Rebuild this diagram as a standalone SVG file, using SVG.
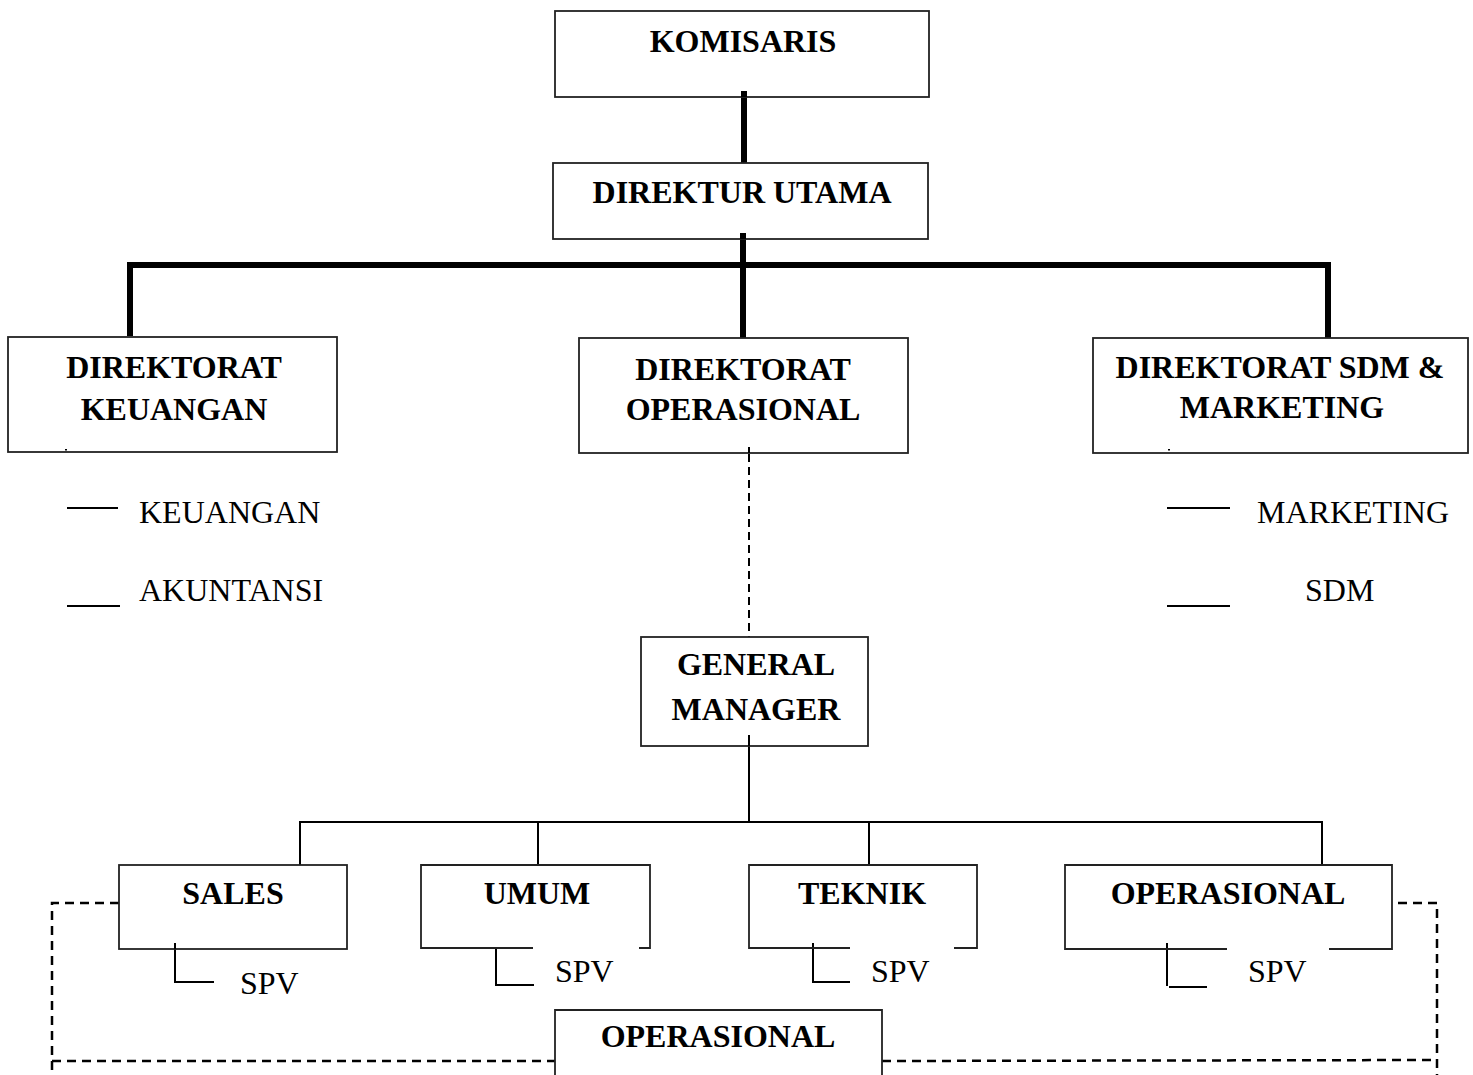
<svg xmlns="http://www.w3.org/2000/svg" width="1473" height="1075" viewBox="0 0 1473 1075">
<style>
.box{fill:#fff;stroke:#222;stroke-width:1.8}
.edge{fill:none;stroke:#222;stroke-width:1.8}
.b{font-family:"Liberation Serif","Times New Roman",serif;font-weight:bold;font-size:32px;fill:#000;text-anchor:middle}
.r{font-family:"Liberation Serif","Times New Roman",serif;font-size:32px;fill:#000}
.thick{fill:none;stroke:#000;stroke-width:6}
.thin{fill:none;stroke:#000;stroke-width:2}
.dash{fill:none;stroke:#000;stroke-width:2.5;stroke-dasharray:9 6}
</style>
<rect width="1473" height="1075" fill="#fff"/>
<g id="connectors">
<line class="thick" x1="744" y1="91" x2="744" y2="163"/>
<line class="thick" x1="743" y1="233" x2="743" y2="338"/>
<polyline class="thick" points="130,336 130,265 1328,265 1328,338"/>
<line class="thin" x1="749" y1="454" x2="749" y2="637" stroke-dasharray="8 5"/>
<line class="thin" x1="749" y1="746" x2="749" y2="822"/>
<line class="thin" x1="299" y1="822" x2="1323" y2="822"/>
<line class="thin" x1="300" y1="822" x2="300" y2="865"/>
<line class="thin" x1="538" y1="822" x2="538" y2="865"/>
<line class="thin" x1="869" y1="822" x2="869" y2="865"/>
<line class="thin" x1="1322" y1="822" x2="1322" y2="865"/>
<polyline class="thin" points="175,943 175,982 214,982"/>
<polyline class="thin" points="496,948 496,985 534,985"/>
<polyline class="thin" points="813,943 813,982 850,982"/>
<line class="thin" x1="1167" y1="943" x2="1167" y2="986"/>
<line class="thin" x1="1169" y1="987" x2="1207" y2="987"/>
<line class="thin" x1="67" y1="508" x2="118" y2="508"/>
<line class="thin" x1="67" y1="606" x2="120" y2="606"/>
<line class="thin" x1="1167" y1="508" x2="1230" y2="508"/>
<line class="thin" x1="1167" y1="606" x2="1230" y2="606"/>
<polyline class="dash" points="119,903 52,903 52,1075"/>
<line class="dash" x1="52" y1="1061" x2="555" y2="1061"/>
<line class="dash" x1="882" y1="1061" x2="1437" y2="1060"/>
<polyline class="dash" points="1398,903 1437,903 1437,1075"/>
</g>
<g id="komisaris"><rect class="box" x="555" y="11" width="374" height="86"/><text class="b" x="743" y="52">KOMISARIS</text></g>
<line class="thick" x1="744" y1="91" x2="744" y2="97"/>
<g id="direktur-utama"><rect class="box" x="553" y="163" width="375" height="76"/><text class="b" x="742" y="203">DIREKTUR UTAMA</text></g>
<line class="thick" x1="743" y1="233" x2="743" y2="239"/>
<g id="dir-keuangan"><rect class="box" x="8" y="337" width="329" height="115"/><text class="b" x="174" y="378">DIREKTORAT</text><text class="b" x="174" y="420">KEUANGAN</text><rect x="65" y="449" width="2" height="1.5" fill="#000"/></g>
<g id="dir-operasional"><rect class="box" x="579" y="338" width="329" height="115"/><text class="b" x="743" y="380">DIREKTORAT</text><text class="b" x="743" y="420">OPERASIONAL</text></g>
<line class="thin" x1="749" y1="447" x2="749" y2="453"/>
<g id="dir-sdm"><rect class="box" x="1093" y="338" width="375" height="115"/><text class="b" x="1280" y="378">DIREKTORAT SDM &amp;</text><text class="b" x="1282" y="418">MARKETING</text><rect x="1168" y="449" width="2" height="1.5" fill="#000"/></g>
<g id="keuangan"><text class="r" x="139" y="523">KEUANGAN</text></g>
<g id="akuntansi"><text class="r" x="139" y="601">AKUNTANSI</text></g>
<g id="marketing"><text class="r" x="1257" y="523">MARKETING</text></g>
<g id="sdm"><text class="r" x="1305" y="601">SDM</text></g>
<g id="general-manager"><rect class="box" x="641" y="637" width="227" height="109"/><text class="b" x="756" y="675">GENERAL</text><text class="b" x="756" y="720">MANAGER</text></g>
<line class="thin" x1="749" y1="735" x2="749" y2="746"/>
<g id="sales"><rect class="box" x="119" y="865" width="228" height="84"/><text class="b" x="233" y="904">SALES</text></g>
<line class="thin" x1="175" y1="943" x2="175" y2="949"/>
<g id="spv-sales"><text class="r" x="240" y="994">SPV</text></g>
<g id="umum"><path class="edge" d="M533,948 H421 V865 H650 V948 H639"/><text class="b" x="537" y="904">UMUM</text></g>
<g id="spv-umum"><text class="r" x="555" y="982">SPV</text></g>
<g id="teknik"><path class="edge" d="M850,948 H749 V865 H977 V948 H954"/><text class="b" x="862" y="904">TEKNIK</text></g>
<g id="spv-teknik"><text class="r" x="871" y="982">SPV</text></g>
<g id="operasional"><path class="edge" d="M1227,949 H1065 V865 H1392 V949 H1329"/><text class="b" x="1228" y="904">OPERASIONAL</text></g>
<g id="spv-operasional"><text class="r" x="1248" y="982">SPV</text></g>
<g id="operasional-bottom"><path class="box" d="M555,1075 V1010 H882 V1075"/><text class="b" x="718" y="1047">OPERASIONAL</text></g>
</svg>
